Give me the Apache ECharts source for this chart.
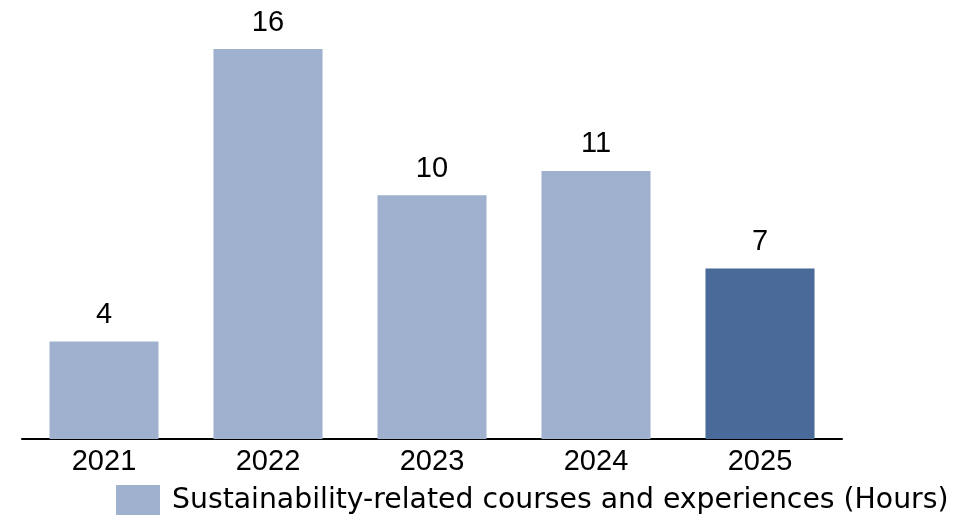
<!DOCTYPE html>
<html>
<head>
<meta charset="utf-8">
<script src="https://cdn.jsdelivr.net/npm/echarts@6/dist/echarts.min.js"></script>
<style>
  html, body { margin: 0; padding: 0; background: #ffffff; }
  #chart { width: 979px; height: 515px; }
</style>
</head>
<body>
<div id="chart"></div>
<script>
// Yearly hours of sustainability-related training
const years = ['2021', '2022', '2023', '2024', '2025'];
const hours = [4, 16, 10, 11, 7];
const seriesName = 'Sustainability-related courses and experiences (Hours)';

const lightBlue = '#9FB1CE';
const darkBlue = '#4A6A99';
const font = 'Liberation Sans';

// The latest year is highlighted in a darker shade
const barData = hours.map((v, i) => ({
  value: v,
  itemStyle: { color: i === hours.length - 1 ? darkBlue : lightBlue }
}));

const chart = echarts.init(document.getElementById('chart'), null, { renderer: 'canvas' });
chart.setOption({
  animation: false,
  textStyle: { fontFamily: font },
  grid: { left: 22, top: 49, width: 820, height: 390, containLabel: false },
  xAxis: {
    type: 'category',
    data: years,
    axisLine: { show: true, lineStyle: { color: '#000000', width: 2 } },
    axisTick: { show: false },
    axisLabel: { color: '#000000', fontSize: 29, fontFamily: font, margin: 8 }
  },
  yAxis: {
    type: 'value',
    min: 0,
    max: 16,
    show: false,
    splitLine: { show: false }
  },
  legend: {
    left: 116,
    top: 485,
    padding: 0,
    itemWidth: 44,
    itemHeight: 32,
    icon: 'rect',
    textStyle: { color: '#000000', fontSize: 28.3, fontFamily: 'DejaVu Sans', padding: [0, 0, 0, 7] },
    data: [{ name: seriesName, itemStyle: { color: lightBlue } }]
  },
  series: [{
    name: seriesName,
    type: 'bar',
    data: barData,
    barWidth: '66.5%',
    itemStyle: { color: lightBlue },
    label: {
      show: true,
      position: 'top',
      distance: 12,
      color: '#000000',
      fontSize: 29,
      fontFamily: font
    }
  }]
});
</script>
</body>
</html>
